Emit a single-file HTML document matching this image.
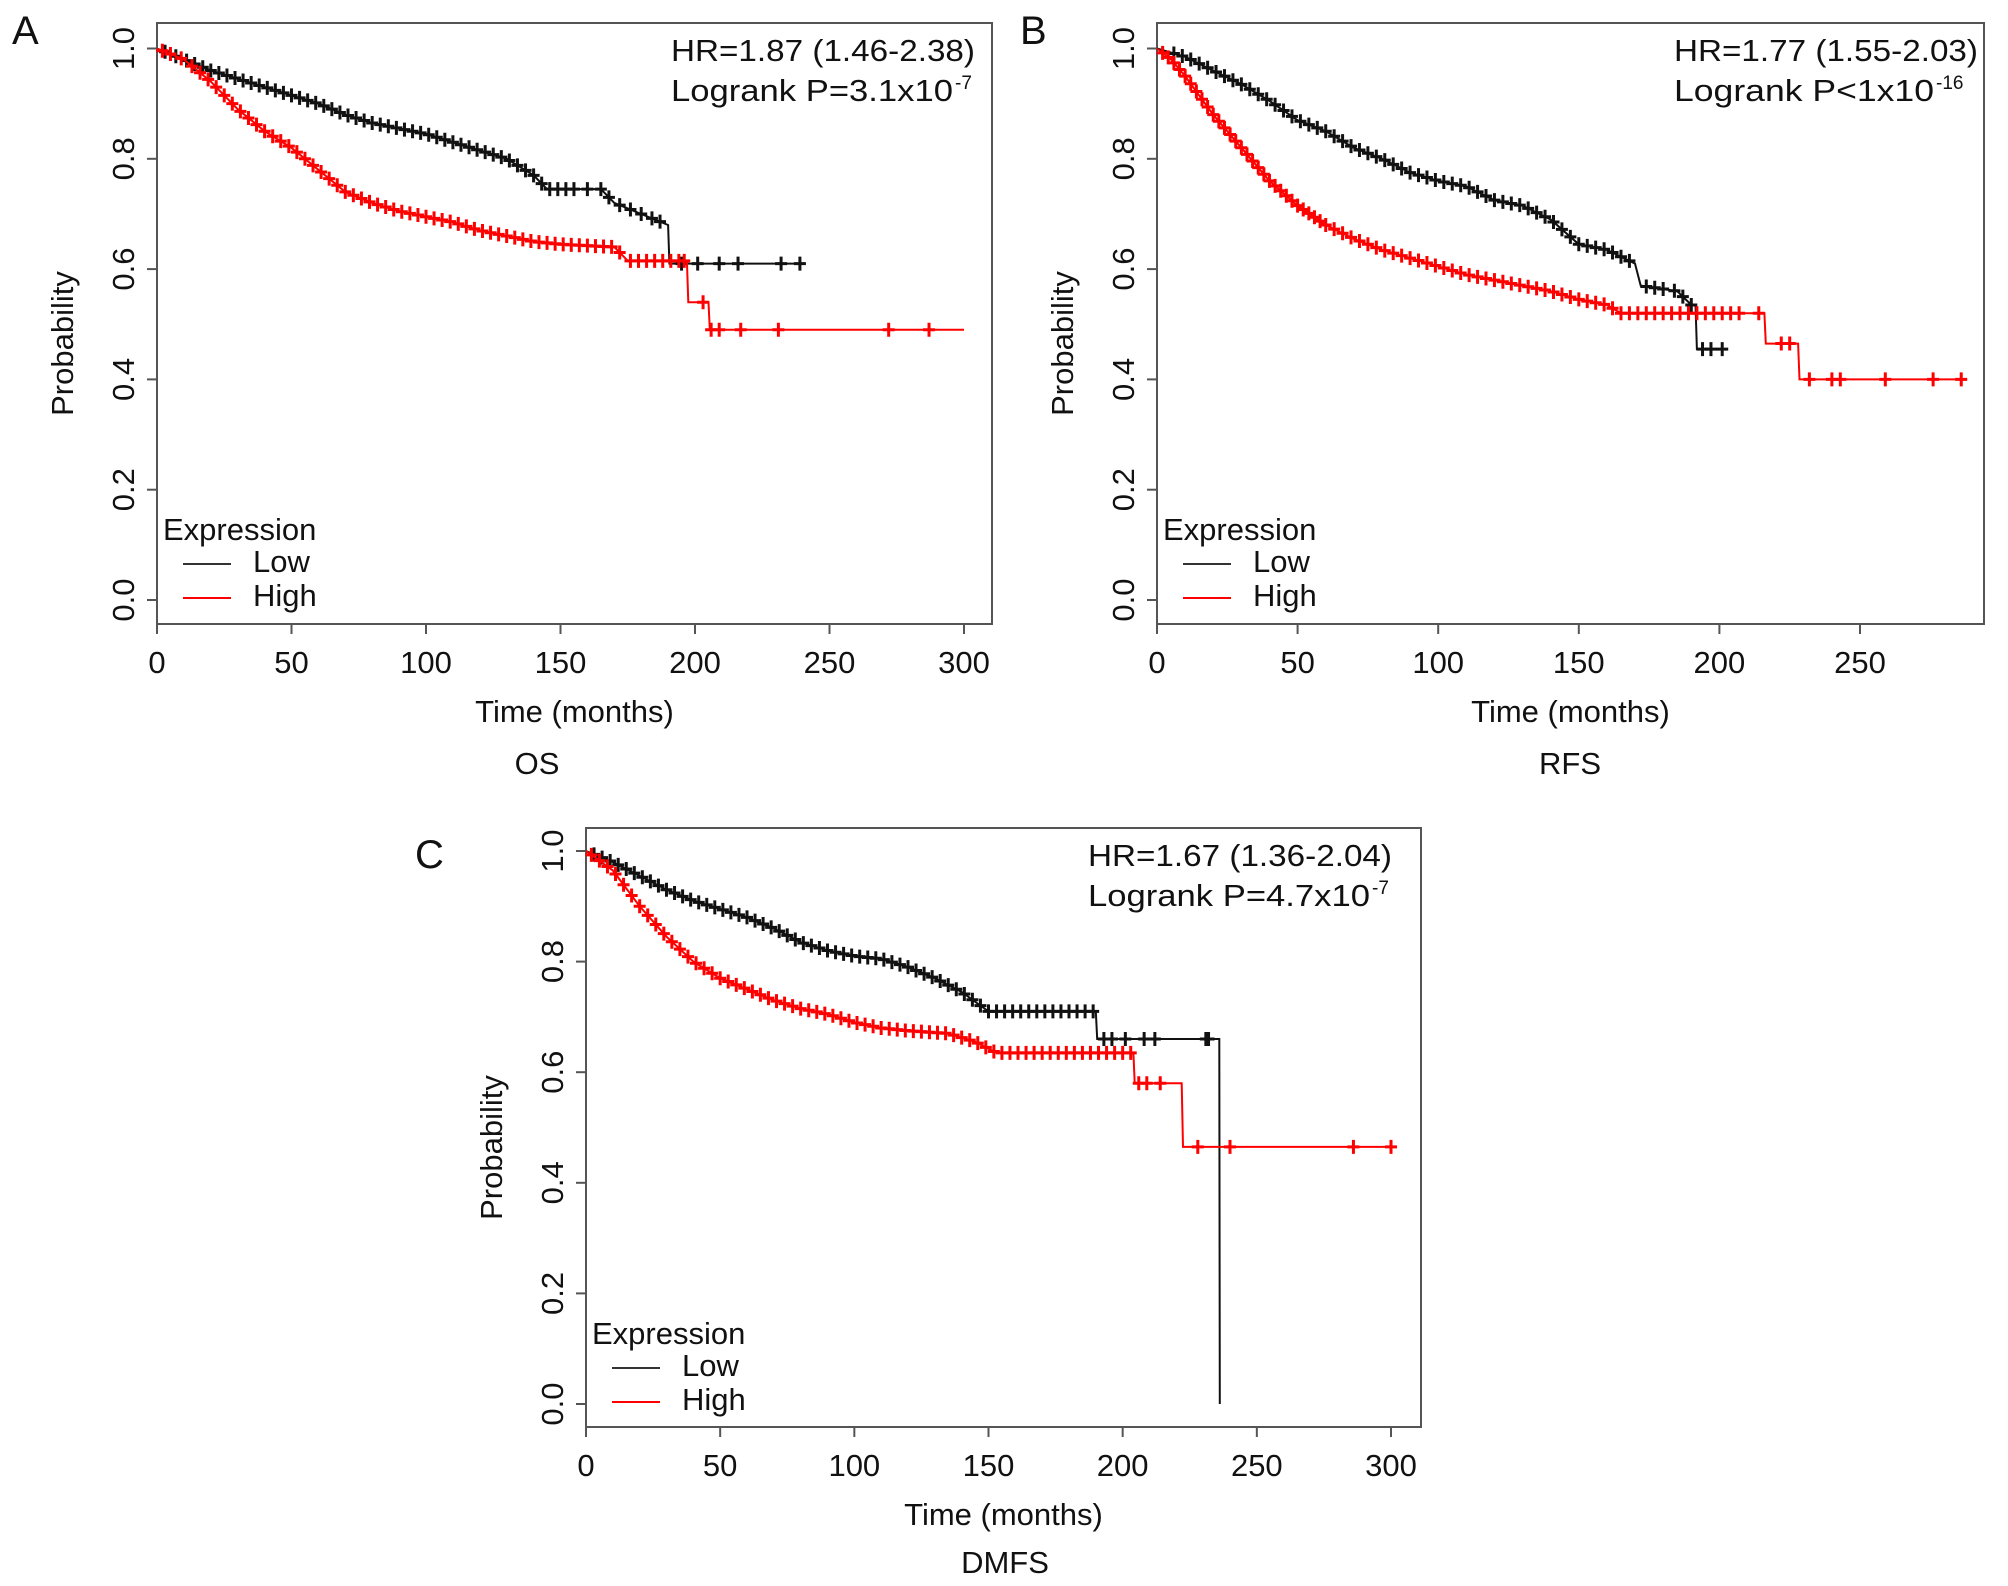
<!DOCTYPE html>
<html><head><meta charset="utf-8">
<style>
html,body{margin:0;padding:0;background:#fff;}
svg{display:block;font-family:"Liberation Sans",Arial,sans-serif;}
</style></head>
<body>
<svg id="fig" width="2008" height="1586" viewBox="0 0 2008 1586" xmlns="http://www.w3.org/2000/svg"></svg>
<script>
// ---------- Panel A (OS) ----------
const aLowT  = [0,10,20,30,40,50,60,70,80,90,100,110,120,130,140,145,165,170,180,190,190.5,240];
const aLowS  = [1,.98,.96,.945,.93,.915,.90,.88,.865,.855,.845,.83,.815,.80,.77,.745,.745,.72,.70,.68,.61,.61];
const aHighT = [0,10,20,30,40,50,60,70,80,90,100,110,120,130,140,150,170,175,197,197.5,205,205.5,300];
const aHighS = [1,.98,.94,.89,.85,.82,.78,.74,.72,.705,.695,.685,.67,.66,.65,.645,.64,.615,.615,.54,.54,.49,.49];
const aLowC  = [3,7,11,14,17,20,23,26,29,32,35,38,41,44,47,50,53,56,59,62,65,68,71,74,77,80,83,86,89,92,95,98,101,104,107,110,113,116,119,122,125,128,131,134,137,140,143,146,149,152,155,160,165,168,172,176,180,184,187,195,201,209,216,232,239];
const aHighC = [2,5,9,13,16,19,22,25,28,31,34,37,40,43,46,49,52,55,58,61,64,67,70,73,76,79,82,85,88,91,94,97,100,103,106,109,112,115,118,121,124,127,130,133,136,139,142,145,148,151,154,157,160,163,166,169,172,176,179,182,185,188,191,194,196,203,206,209,217,231,272,287];
// ---------- Panel B (RFS) ----------
const bLowT  = [0,10,20,30,40,50,60,70,80,90,100,110,120,130,140,150,160,170,172,185,190,191.5,192,203];
const bLowS  = [1,.985,.96,.935,.905,.87,.85,.82,.80,.775,.76,.75,.725,.715,.69,.645,.635,.61,.57,.56,.535,.535,.455,.455];
const bHighT = [0,5,10,20,30,40,50,60,70,80,90,100,110,120,130,140,150,160,165,216,216.5,228,228.5,287];
const bHighS = [1,.98,.95,.88,.82,.76,.715,.68,.655,.635,.62,.605,.59,.58,.57,.56,.545,.535,.52,.52,.465,.465,.40,.40];
const bLowC  = [6,9,12,15,18,21,24,27,30,33,36,39,42,45,48,51,54,57,60,63,66,69,72,75,78,81,84,87,90,93,96,99,102,105,108,111,114,117,120,123,126,129,132,135,138,141,144,147,150,153,156,159,162,165,168,174,177,180,184,187,190,194,197,201];
const bHighC = [2,4,6,8,10,12,14,16,18,20,22,24,26,28,30,32,34,36,38,40,42,44,46,48,50,52,54,56,58,60,63,66,69,72,75,78,81,84,87,90,93,96,99,102,105,108,111,114,117,120,123,126,129,132,135,138,141,144,147,150,153,156,159,162,165,168,171,174,177,180,183,186,189,192,195,198,201,204,207,214,222,225,232,240,243,259,276,286];
// ---------- Panel C (DMFS) ----------
const cLowT  = [0,10,20,30,40,50,60,70,80,90,100,110,120,130,140,150,190,190.5,236,236.2];
const cLowS  = [1,.98,.955,.93,.91,.895,.88,.86,.835,.82,.81,.805,.79,.77,.745,.71,.71,.66,.66,0];
const cHighT = [0,10,20,30,40,50,60,70,80,90,100,110,120,135,145,153,204,204.5,222,222.5,300];
const cHighS = [1,.965,.90,.845,.80,.77,.75,.73,.715,.705,.69,.68,.675,.67,.655,.635,.635,.58,.58,.465,.465];
const cLowC  = [3,6,9,12,15,18,21,24,27,30,33,36,39,42,45,48,51,54,57,60,63,66,69,72,75,78,81,84,87,90,93,96,99,102,105,108,111,114,117,120,123,126,129,132,135,138,141,144,147,150,153,156,159,162,165,168,171,174,177,180,183,186,189,193,196,201,208,212,231,232];
const cHighC = [2,5,8,11,14,17,20,23,26,29,32,35,38,41,44,47,50,53,56,59,62,65,68,71,74,77,80,83,86,89,92,95,98,101,104,107,110,113,116,119,122,125,128,131,134,137,140,143,146,149,152,155,158,161,164,167,170,173,176,179,182,185,188,191,194,197,200,203,206,209,214,228,240,286,300];

const xTicksA = [0,50,100,150,200,250,300];
const xTicksB = [0,50,100,150,200,250];
const yTicks  = [0,0.2,0.4,0.6,0.8,1.0];
const yTickLabels = ["0.0","0.2","0.4","0.6","0.8","1.0"];

const NS = "http://www.w3.org/2000/svg";
const root = document.getElementById('fig');
function mk(tag, attrs, parent){
  const e = document.createElementNS(NS, tag);
  for (const k in attrs) e.setAttribute(k, attrs[k]);
  (parent||root).appendChild(e);
  return e;
}
function interp(T,S,t){
  for (let i=1;i<T.length;i++){
    if (t<=T[i]){ const f=(t-T[i-1])/((T[i]-T[i-1])||1); return S[i-1]+f*(S[i]-S[i-1]); }
  }
  return S[S.length-1];
}

function panel(cfg){
  const g = mk('g',{});
  
  
  const X = t => cfg.x0 + (t/cfg.xmax)*(cfg.x1-cfg.x0);
  const Y = p => cfg.y0 + p*(cfg.y1-cfg.y0);
  const box = mk('rect',{x:cfg.bl,y:cfg.bt,width:cfg.br-cfg.bl,height:cfg.bb-cfg.bt,fill:'none',stroke:'#555','stroke-width':2},g);
  
  
  cfg.xticks.forEach(v=>{
    mk('line',{x1:X(v),x2:X(v),y1:cfg.bb,y2:cfg.bb+10,stroke:'#555','stroke-width':2},g);
    const t = mk('text',{x:X(v),y:cfg.bb+49,'font-size':31,'text-anchor':'middle',fill:'#111'},g);
    t.textContent = v;
    
    
  });
  yTicks.forEach((v,i)=>{
    mk('line',{x1:cfg.bl-10,x2:cfg.bl,y1:Y(v),y2:Y(v),stroke:'#555','stroke-width':2},g);
    const cx = cfg.bl-34, cy=Y(v);
    const t = mk('text',{x:cx,y:cy+11,'font-size':31,'text-anchor':'middle',fill:'#111',transform:`rotate(-90 ${cx} ${cy})`},g);
    t.textContent = yTickLabels[i];
    
    
  });
  const cyM = (cfg.bt+cfg.bb)/2+20, cxT = cfg.bl-84;
  const yt = mk('text',{x:cxT,y:cyM,'font-size':31,'text-anchor':'middle',fill:'#111',transform:`rotate(-90 ${cxT} ${cyM})`},g);
  yt.textContent='Probability';
  
  
  const mid = (cfg.bl+cfg.br)/2;
  const xt = mk('text',{x:mid,y:cfg.bb+98,'font-size':31,'text-anchor':'middle',fill:'#111'},g);
  xt.textContent='Time (months)';
  
  
  const st = mk('text',{x:cfg.subX,y:cfg.bb+cfg.subDy,'font-size':31,'text-anchor':'middle',fill:'#111'},g);
  st.textContent=cfg.sub;
  
  
  const pl = mk('text',{x:cfg.lx,y:cfg.ly,'font-size':40,fill:'#111'},g);
  pl.textContent=cfg.letter;
  
  
  const hr = mk('text',{x:cfg.tx,y:cfg.bt+38,'font-size':31,fill:'#111',textLength:cfg.hrW,lengthAdjust:'spacingAndGlyphs'},g);
  hr.textContent=cfg.hr;
  
  
  const lr = mk('text',{x:cfg.tx,y:cfg.bt+78,'font-size':31,fill:'#111',textLength:cfg.lrW,lengthAdjust:'spacingAndGlyphs'},g);
  lr.textContent=cfg.lr;
  
  
  const ex = mk('text',{x:cfg.tx+cfg.lrW+2,y:cfg.bt+66,'font-size':19,'text-anchor':'start',fill:'#111'},g);
  ex.textContent=cfg.exp;
  
  
  const lg = mk('g',{},g);
  
  
  const lx = cfg.bl+6, ly = Y(0);
  const le = mk('text',{x:lx,y:ly-60,'font-size':31,fill:'#111'},lg);
  le.textContent='Expression';
  
  
  [['Low','#333',-28],['High','#f00',6]].forEach(([n,c,dy])=>{
    const l = mk('line',{x1:lx+20,x2:lx+68,y1:ly+dy-8,y2:ly+dy-8,stroke:c,'stroke-width':2},lg);
    
    
    const t = mk('text',{x:lx+90,y:ly+dy,'font-size':31,fill:'#111'},lg);
    t.textContent=n;
    
    
  });
  function series(T,S,C,color,nm){
    const sg = mk('g',{},g);
    
    
    const pts = T.map((t,i)=>X(t).toFixed(1)+','+Y(S[i]).toFixed(1)).join(' ');
    const pl = mk('polyline',{points:pts,fill:'none',stroke:color,'stroke-width':2},sg);
    
    
    C.forEach(t=>{
      const cx=X(t), cy=Y(interp(T,S,t));
      const p = mk('path',{d:`M${cx-6},${cy}H${cx+6}M${cx},${cy-7}V${cy+7}`,stroke:color,'stroke-width':3},sg);
      
      
    });
  }
  series(cfg.lowT,cfg.lowS,cfg.lowC,'#111',cfg.name+'-low-series');
  series(cfg.highT,cfg.highS,cfg.highC,'#f00',cfg.name+'-high-series');
}

panel({name:'panel-a-os',letter:'A',lx:12,ly:44,sub:'OS',subX:537,subDy:150,
  bl:157,br:992,bt:23,bb:624,x0:157,x1:964,xmax:300,y0:600,y1:48.5,xticks:xTicksA,
  tx:671,hrW:304,lrW:282,
  hr:'HR=1.87 (1.46-2.38)',lr:'Logrank P=3.1x10',exp:'-7',
  lowT:aLowT,lowS:aLowS,lowC:aLowC,highT:aHighT,highS:aHighS,highC:aHighC});
panel({name:'panel-b-rfs',letter:'B',lx:1020,ly:44,sub:'RFS',subX:1570,subDy:150,
  bl:1157,br:1984,bt:23,bb:624,x0:1157,x1:1860,xmax:250,y0:600,y1:48.5,xticks:xTicksB,
  tx:1674,hrW:304,lrW:260,
  hr:'HR=1.77 (1.55-2.03)',lr:'Logrank P<1x10',exp:'-16',
  lowT:bLowT,lowS:bLowS,lowC:bLowC,highT:bHighT,highS:bHighS,highC:bHighC});
panel({name:'panel-c-dmfs',letter:'C',lx:415,ly:868,sub:'DMFS',subX:1005,subDy:146,
  bl:586,br:1421,bt:828,bb:1427,x0:586,x1:1391,xmax:300,y0:1404,y1:851,xticks:xTicksA,
  tx:1088,hrW:304,lrW:282,
  hr:'HR=1.67 (1.36-2.04)',lr:'Logrank P=4.7x10',exp:'-7',
  lowT:cLowT,lowS:cLowS,lowC:cLowC,highT:cHighT,highS:cHighS,highC:cHighC});
</script>
</body></html>
